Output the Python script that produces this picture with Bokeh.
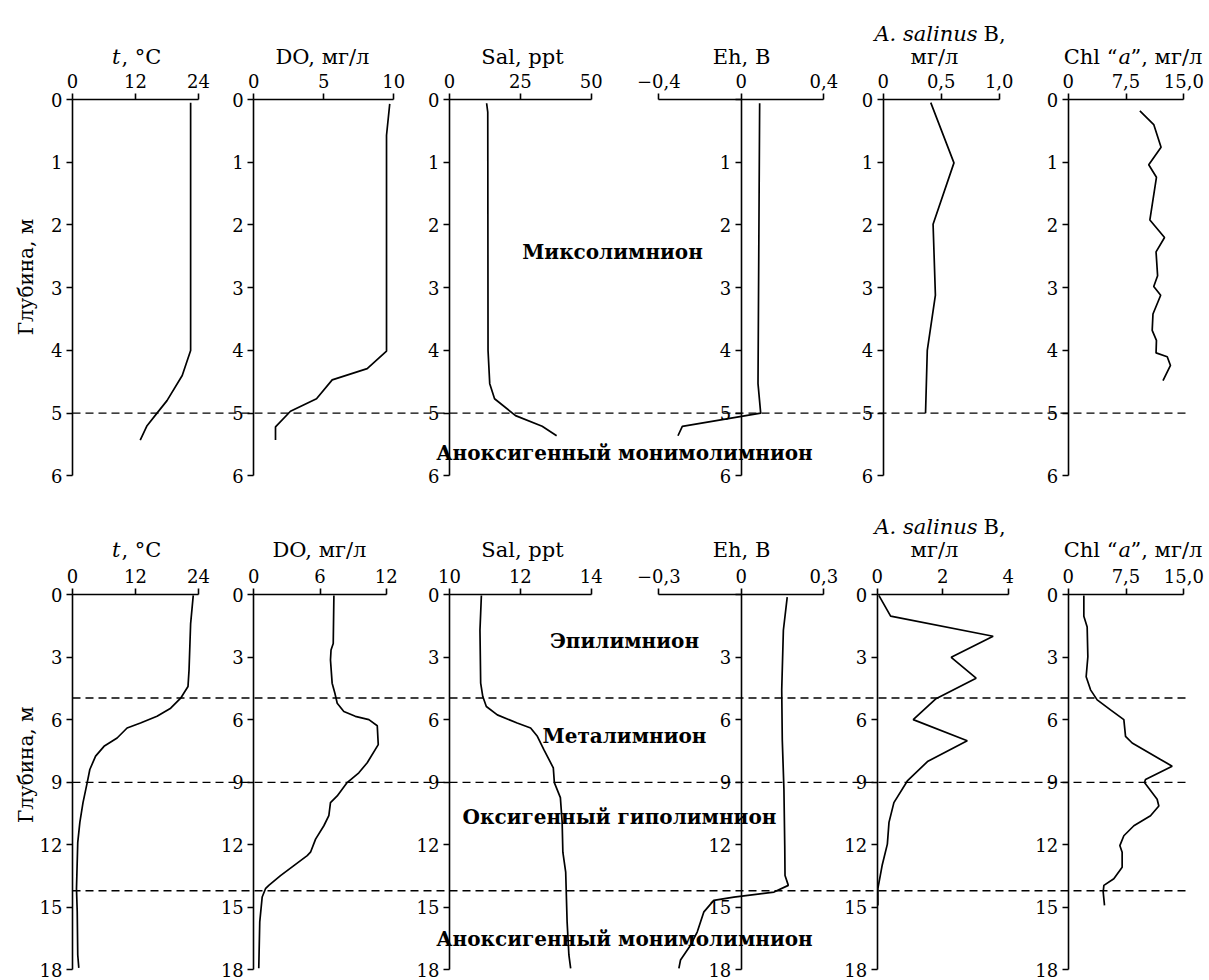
import math
from bokeh.plotting import figure
from bokeh.models import Range1d, LinearAxis, FixedTicker
from bokeh.core.properties import value
from bokeh.embed import file_html
from bokeh.resources import INLINE

# ================= DATA =================
# depth axes
top_depth_ticks = [0, 1, 2, 3, 4, 5, 6]
top_depth_labels = ["0", "1", "2", "3", "4", "5", "6"]
top_depth_labels_eh = ["", "1", "2", "3", "4", "5", "6"]
bot_depth_ticks = [0, 3, 6, 9, 12, 15, 18]
bot_depth_labels = ["0", "3", "6", "9", "12", "15", "18"]
bot_depth_labels_eh = ["", "3", "6", "9", "12", "15", "18"]

# value axes (ticks + labels)
t_ticks = [0, 12, 24]
t_labels = ["0", "12", "24"]
do_top_ticks = [0, 5, 10]
do_top_labels = ["0", "5", "10"]
do_bot_ticks = [0, 6, 12]
do_bot_labels = ["0", "6", "12"]
sal_top_ticks = [0, 25, 50]
sal_top_labels = ["0", "25", "50"]
sal_bot_ticks = [10, 12, 14]
sal_bot_labels = ["10", "12", "14"]
eh_top_ticks = [-0.4, 0, 0.4]
eh_top_labels = ["\u22120,4", "0", "0,4"]
eh_bot_ticks = [-0.3, 0, 0.3]
eh_bot_labels = ["\u22120,3", "0", "0,3"]
as_top_ticks = [0, 0.5, 1.0]
as_top_labels = ["0", "0,5", "1,0"]
as_bot_ticks = [0, 2, 4]
as_bot_labels = ["0", "2", "4"]
chl_ticks = [0, 7.5, 15]
chl_labels = ["0", "7,5", "15,0"]

# ---- upper row (depth 0-6 m) ----
t_top_depth = [0.05, 4.0, 4.4, 4.8, 5.0, 5.2, 5.43]
t_top = [22.5, 22.5, 20.9, 18.0, 16.1, 14.2, 12.9]

do_top_depth = [0.07, 0.57, 4.01, 4.29, 4.47, 4.77, 4.97, 5.22, 5.43]
do_top = [9.71, 9.48, 9.48, 8.1, 5.6, 4.48, 2.62, 1.55, 1.55]

sal_top_depth = [0.06, 0.2, 4.0, 4.53, 4.77, 5.04, 5.21, 5.36]
sal_top = [13.1, 13.5, 13.6, 14.2, 15.9, 23.3, 32.7, 37.8]

eh_top_depth = [0.06, 4.53, 5.0, 5.21, 5.36]
eh_top = [0.089, 0.081, 0.094, -0.286, -0.307]

as_top_depth = [0.05, 1.01, 1.99, 3.12, 4.0, 5.0]
as_top = [0.41, 0.61, 0.43, 0.45, 0.38, 0.365]

chl_top_depth = [0.18, 0.40, 0.76, 1.04, 1.24, 1.92, 2.2, 2.43, 2.81, 2.98,
                 3.12, 3.42, 3.68, 3.84, 4.04, 4.1, 4.24, 4.48]
chl_top = [9.3, 11.1, 12.05, 10.45, 11.45, 10.6, 12.5, 11.4, 11.6, 11.1,
           12.0, 11.0, 10.9, 11.45, 11.4, 12.85, 13.27, 12.3]

# ---- lower row (depth 0-18 m) ----
t_bot_depth = [0.03, 1.38, 3.6, 4.4, 4.96, 5.44, 5.83, 6.15, 6.39, 6.87, 7.27,
               7.74, 8.38, 9.01, 9.97, 10.92, 11.88, 14.1, 15.2, 17.28, 17.9]
t_bot = [23.0, 22.5, 22.2, 22.0, 20.6, 18.7, 16.1, 12.95, 10.4, 8.5, 6.0,
         4.4, 3.3, 2.8, 2.0, 1.4, 1.0, 0.76, 0.9, 1.0, 1.2]

do_bot_depth = [0.03, 2.34, 2.65, 3.13, 4.24, 4.72, 5.2, 5.6, 5.83, 5.99, 6.28,
                7.19, 8.06, 8.54, 9.01, 9.65, 9.97, 10.6, 11.08, 11.72, 12.35,
                12.51, 12.99, 13.47, 13.94, 14.1, 14.5, 15.69, 17.92]
do_bot = [7.26, 7.2, 7.0, 6.95, 7.1, 7.35, 7.56, 8.16, 9.2, 10.43, 11.19,
          11.28, 10.28, 9.52, 8.46, 7.56, 6.95, 6.8, 6.35, 5.6, 5.14,
          4.84, 3.63, 2.42, 1.36, 1.06, 0.76, 0.54, 0.45]

sal_bot_depth = [0.03, 1.7, 4.24, 4.88, 5.36, 5.76, 6.15, 6.39, 6.79, 7.42,
                 8.3, 9.01, 9.73, 10.92, 12.35, 13.31, 15.69, 17.28, 17.92]
sal_bot = [10.9, 10.86, 10.88, 10.94, 11.04, 11.35, 11.91, 12.29, 12.48, 12.66,
           12.93, 12.96, 13.13, 13.18, 13.2, 13.28, 13.32, 13.37, 13.42]

eh_bot_depth = [0.11, 1.7, 4.56, 6.95, 9.33, 12.03, 13.47, 13.94, 14.26, 14.5,
                14.66, 15.21, 15.69, 16.17, 16.8, 17.52, 17.92]
eh_bot = [0.167, 0.153, 0.147, 0.149, 0.155, 0.158, 0.159, 0.171, 0.119, -0.027,
          -0.1, -0.136, -0.148, -0.16, -0.184, -0.221, -0.227]

as_bot_depth = [0.03, 1.02, 1.99, 3.0, 4.0, 5.0, 5.99, 7.0, 7.98, 8.93, 9.97,
                10.92, 11.96, 12.99, 14.1, 14.9]
as_bot = [0.05, 0.41, 3.54, 2.26, 3.02, 1.78, 1.1, 2.75, 1.55, 0.92, 0.51,
          0.36, 0.31, 0.15, 0.02, 0.02]

chl_bot_depth = [0.03, 1.03, 1.54, 2.97, 3.93, 4.56, 5.04, 5.52, 5.99, 6.79,
                 7.11, 7.9, 8.22, 8.86, 9.01, 9.81, 10.13, 10.6, 11.08, 11.56,
                 12.03, 12.35, 13.07, 13.62, 13.94, 14.26, 14.9]
chl_bot = [2.03, 2.03, 2.46, 2.55, 2.33, 2.9, 3.76, 5.49, 7.22, 7.44,
           8.3, 11.98, 13.49, 10.03, 9.9, 11.54, 11.76, 10.68, 8.52, 7.22,
           6.7, 7.0, 7.0, 5.92, 4.63, 4.54, 4.71]

# layer boundaries (m)
top_boundaries = [5.0]
bot_boundaries = [4.95, 9.0, 14.2]

# layer names and depths of their labels
top_zone_names = ["Миксолимнион", "Аноксигенный монимолимнион"]
top_zone_depths = [2.43, 5.63]
bot_zone_names = ["Эпилимнион", "Металимнион", "Оксигенный гиполимнион",
                  "Аноксигенный монимолимнион"]
bot_zone_depths = [2.21, 6.76, 10.68, 16.49]

depth_title = "Глубина, м"

# ================= LAYOUT =================
W, H = 1205, 980
X0, X1 = 0, W           # page x of canvas edges (template has no margin)
Y0, Y1 = 0, H           # page y of canvas edges
FONT = "DejaVu Serif"

ROWS = {
    # name: (page y of depth 0, px per metre, depth max, ticks)
    "top": (99.0, 62.73, 6, top_depth_ticks),
    "bot": (594.3, 20.844, 18, bot_depth_ticks),
}

p = figure(width=W, height=H, output_backend="svg", toolbar_location=None,
           x_range=Range1d(X0, X1), y_range=Range1d(Y1, Y0),
           x_axis_location=None, y_axis_location=None, min_border=0,
           outline_line_color=None, background_fill_color="white",
           border_fill_color="white")
p.xgrid.visible = False
p.ygrid.visible = False

yr = {}
for rname, (y0, s, dmax, dt) in ROWS.items():
    yr[rname] = Range1d(start=(Y1 - y0) / s, end=(Y0 - y0) / s)

panels = [
    # name, row, ticks, labels, depth labels, page x of first/last tick, y-axis at, depth, values
    ("t_top", "top", t_ticks, t_labels, top_depth_labels, 72.0, 198.0, 0, t_top_depth, t_top),
    ("do_top", "top", do_top_ticks, do_top_labels, top_depth_labels, 253.3, 393.3, 0, do_top_depth, do_top),
    ("sal_top", "top", sal_top_ticks, sal_top_labels, top_depth_labels, 449.0, 590.7, 0, sal_top_depth, sal_top),
    ("eh_top", "top", eh_top_ticks, eh_top_labels, top_depth_labels_eh, 658.3, 823.3, 0, eh_top_depth, eh_top),
    ("as_top", "top", as_top_ticks, as_top_labels, top_depth_labels, 882.7, 998.7, 0, as_top_depth, as_top),
    ("chl_top", "top", chl_ticks, chl_labels, top_depth_labels, 1067.7, 1183.3, 0, chl_top_depth, chl_top),
    ("t_bot", "bot", t_ticks, t_labels, bot_depth_labels, 72.0, 198.0, 0, t_bot_depth, t_bot),
    ("do_bot", "bot", do_bot_ticks, do_bot_labels, bot_depth_labels, 253.3, 385.7, 0, do_bot_depth, do_bot),
    ("sal_bot", "bot", sal_bot_ticks, sal_bot_labels, bot_depth_labels, 449.0, 590.7, 10, sal_bot_depth, sal_bot),
    ("eh_bot", "bot", eh_bot_ticks, eh_bot_labels, bot_depth_labels_eh, 658.3, 823.3, 0, eh_bot_depth, eh_bot),
    ("as_bot", "bot", as_bot_ticks, as_bot_labels, bot_depth_labels, 876.7, 1007.7, 0, as_bot_depth, as_bot),
    ("chl_bot", "bot", chl_ticks, chl_labels, bot_depth_labels, 1067.7, 1183.3, 0, chl_bot_depth, chl_bot),
]

xr = {}
for name, row, ticks, labels, dl, p0, p1, yat, d, v in panels:
    v0, v1 = ticks[0], ticks[-1]
    k = (p1 - p0) / (v1 - v0)
    xr[name] = Range1d(start=v0 + (X0 - p0) / k, end=v0 + (X1 - p0) / k)

p.extra_x_ranges = xr
p.extra_y_ranges = yr


def style_axis(ax):
    ax.axis_line_color = "black"
    ax.axis_line_width = 1.6
    ax.major_tick_line_color = "black"
    ax.major_tick_line_width = 1.6
    ax.major_tick_in = 0
    ax.major_tick_out = 6
    ax.minor_tick_line_color = None
    ax.major_label_text_font = FONT
    ax.major_label_text_font_size = "18px"
    ax.major_label_text_color = "black"
    ax.major_label_standoff = 4


for name, row, ticks, labels, dl, p0, p1, yat, d, v in panels:
    y0, s, dmax, dt = ROWS[row]
    xa = LinearAxis(x_range_name=name, y_range_name=row, fixed_location=0,
                    bounds=(ticks[0], ticks[-1]),
                    ticker=FixedTicker(ticks=ticks, minor_ticks=[]),
                    major_label_overrides=dict(zip(ticks, labels)))
    style_axis(xa)
    xa.major_label_standoff = 6
    p.add_layout(xa, "above")
    ya = LinearAxis(x_range_name=name, y_range_name=row, fixed_location=yat,
                    bounds=(0, dmax),
                    ticker=FixedTicker(ticks=dt, minor_ticks=[]),
                    major_label_overrides=dict(zip(dt, dl)))
    style_axis(ya)
    p.add_layout(ya, "left")
    p.line(x=v, y=d, x_range_name=name, y_range_name=row,
           line_color="black", line_width=1.7)

# dashed boundaries
for row, bounds in (("top", top_boundaries), ("bot", bot_boundaries)):
    for b in bounds:
        p.line(x=[72, 1190], y=[b, b], y_range_name=row, line_color="black",
               line_width=1.4, line_dash="8 5")

# zone labels
p.text(x=[612, 624], y=top_zone_depths, text=top_zone_names, y_range_name="top",
       text_font=value(FONT), text_font_style="bold", text_font_size="20px",
       text_align="center", text_baseline="middle", text_color="black")
p.text(x=[624, 624, 619, 624], y=bot_zone_depths, text=bot_zone_names, y_range_name="bot",
       text_font=value(FONT), text_font_style="bold", text_font_size="20px",
       text_align="center", text_baseline="middle", text_color="black")

# depth axis titles
for row, dc in (("top", 2.83), ("bot", 8.15)):
    p.text(x=[25], y=[dc], text=[depth_title], y_range_name=row, angle=math.pi / 2,
           text_font=value(FONT), text_font_size="20px", text_align="center",
           text_baseline="middle", text_color="black")

# panel titles
TS = "21px"


def title(xpage, row, px_above, txt, align="center", style="normal"):
    y0, s, dmax, dt = ROWS[row]
    p.text(x=[xpage], y=[-px_above / s], text=[txt], y_range_name=row,
           text_font=value(FONT), text_font_size=TS, text_font_style=style,
           text_align=align, text_baseline="alphabetic", text_color="black")


for row, base in (("top", 43), ("bot", 45)):
    title(120, row, base, "t", align="right", style="italic")
    title(121, row, base, ", °C", align="left")
    title(322 if row == "top" else 319, row, base, "DO, мг/л")
    title(522, row, base, "Sal, ppt")
    title(741, row, base, "Eh, В")
    title(977, row, base + 23, "A. salinus", align="right", style="italic")
    title(983, row, base + 23, "В,", align="left")
    title(934, row, base, "мг/л")
    title(1117, row, base, "Chl \u201c", align="right")
    title(1118, row, base, "a", align="left", style="italic")
    title(1130, row, base, "\u201d, мг/л", align="left")

open("out.html", "w").write(file_html(p, INLINE))
